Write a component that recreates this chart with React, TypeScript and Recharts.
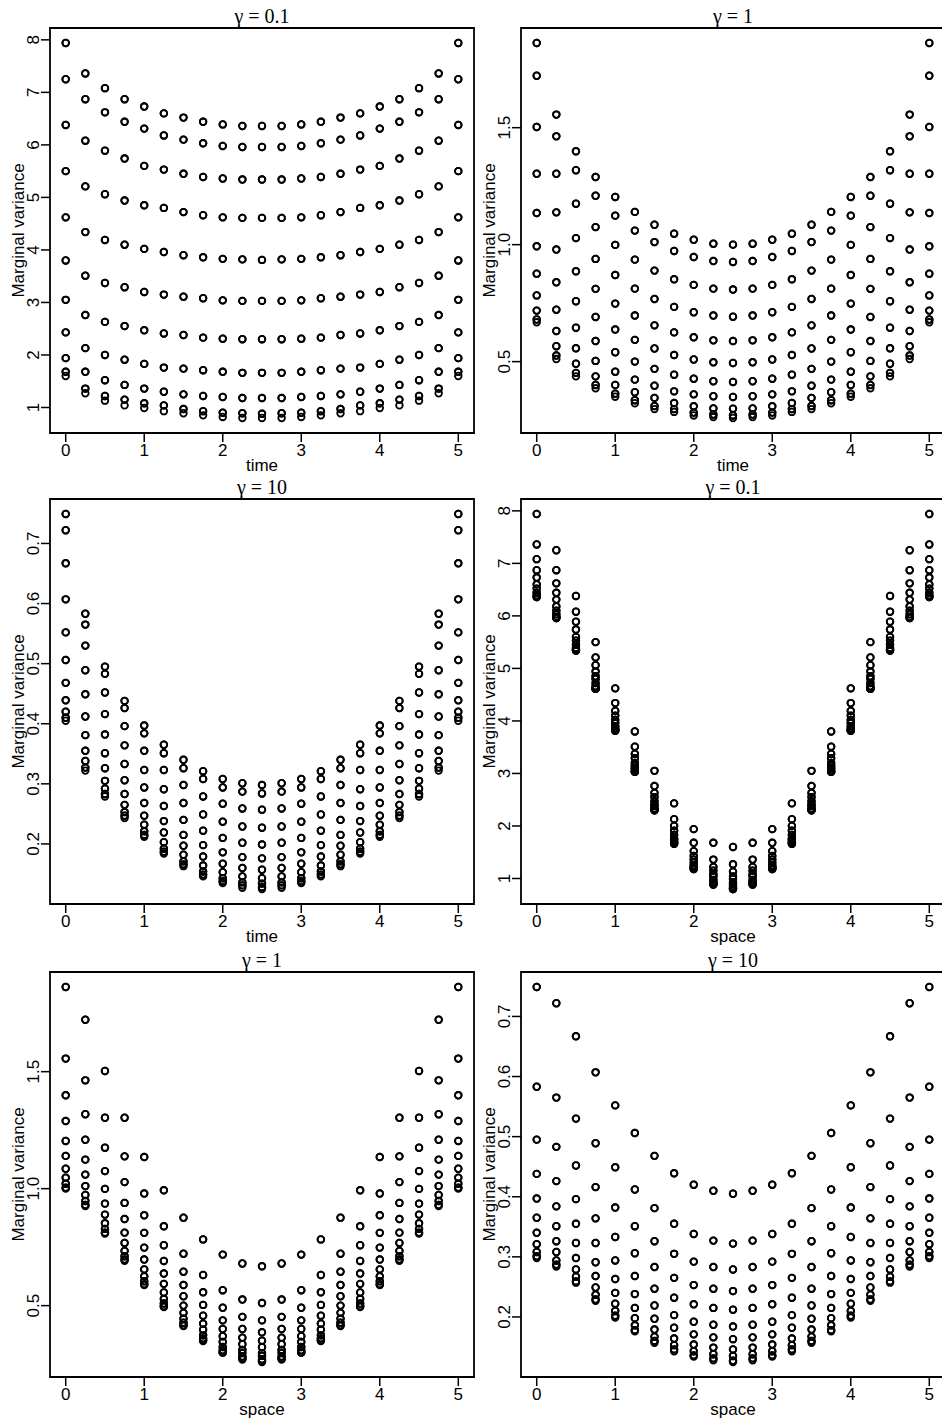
import React from 'react'
import { ScatterChart, Scatter, XAxis, YAxis, ReferenceArea } from 'recharts'

// grid of time / space locations (both 0..5 by 0.25)
const grid = [0, 0.25, 0.5, 0.75, 1, 1.25, 1.5, 1.75, 2, 2.25, 2.5, 2.75, 3, 3.25, 3.5, 3.75, 4, 4.25, 4.5, 4.75, 5]
const xTicks = [0, 1, 2, 3, 4, 5]

const yTicks01 = [1, 2, 3, 4, 5, 6, 7, 8]
const yTicks1 = [0.5, 1.0, 1.5]
const yTicks10 = [0.2, 0.3, 0.4, 0.5, 0.6, 0.7]

// marginal variance, one quarter of the field:
// rows = time 0, 0.25 .. 2.5, columns = space 0, 0.25 .. 2.5
// (the field is symmetric about 2.5 in both time and space)
const var01 = [
  [7.94, 7.25, 6.38, 5.5, 4.62, 3.8, 3.05, 2.43, 1.94, 1.68, 1.6],
  [7.36, 6.87, 6.08, 5.21, 4.34, 3.51, 2.76, 2.13, 1.68, 1.36, 1.27],
  [7.08, 6.62, 5.89, 5.06, 4.19, 3.37, 2.63, 2.0, 1.52, 1.22, 1.13],
  [6.87, 6.44, 5.74, 4.94, 4.1, 3.29, 2.55, 1.91, 1.43, 1.15, 1.04],
  [6.73, 6.31, 5.6, 4.85, 4.02, 3.2, 2.47, 1.83, 1.36, 1.08, 0.99],
  [6.6, 6.18, 5.53, 4.8, 3.96, 3.15, 2.41, 1.76, 1.3, 1.04, 0.93],
  [6.52, 6.1, 5.45, 4.72, 3.9, 3.11, 2.38, 1.74, 1.25, 0.97, 0.89],
  [6.44, 6.03, 5.39, 4.66, 3.86, 3.08, 2.33, 1.71, 1.22, 0.93, 0.85],
  [6.39, 5.98, 5.36, 4.62, 3.83, 3.04, 2.31, 1.68, 1.2, 0.9, 0.82],
  [6.36, 5.96, 5.34, 4.61, 3.82, 3.03, 2.3, 1.66, 1.18, 0.89, 0.8],
  [6.36, 5.96, 5.34, 4.61, 3.81, 3.03, 2.3, 1.66, 1.18, 0.88, 0.8],
]

const var1 = [
  [1.862, 1.722, 1.503, 1.303, 1.135, 0.993, 0.876, 0.783, 0.718, 0.68, 0.668],
  [1.556, 1.463, 1.303, 1.138, 0.979, 0.839, 0.722, 0.631, 0.566, 0.526, 0.511],
  [1.399, 1.318, 1.175, 1.028, 0.886, 0.758, 0.645, 0.557, 0.491, 0.452, 0.437],
  [1.289, 1.209, 1.075, 0.939, 0.811, 0.691, 0.588, 0.503, 0.437, 0.4, 0.386],
  [1.204, 1.124, 0.999, 0.87, 0.748, 0.637, 0.54, 0.457, 0.4, 0.363, 0.35],
  [1.14, 1.06, 0.936, 0.812, 0.697, 0.593, 0.5, 0.423, 0.369, 0.335, 0.322],
  [1.085, 1.011, 0.889, 0.768, 0.655, 0.556, 0.469, 0.397, 0.345, 0.31, 0.297],
  [1.047, 0.973, 0.852, 0.734, 0.625, 0.528, 0.444, 0.373, 0.323, 0.297, 0.285],
  [1.021, 0.947, 0.828, 0.711, 0.604, 0.509, 0.427, 0.36, 0.309, 0.282, 0.27],
  [1.004, 0.93, 0.812, 0.697, 0.591, 0.497, 0.416, 0.352, 0.3, 0.274, 0.263],
  [1.0, 0.926, 0.808, 0.692, 0.588, 0.494, 0.413, 0.349, 0.299, 0.27, 0.259],
]

const var10 = [
  [0.749, 0.722, 0.667, 0.607, 0.552, 0.506, 0.468, 0.439, 0.42, 0.41, 0.405],
  [0.583, 0.565, 0.53, 0.489, 0.449, 0.412, 0.381, 0.355, 0.338, 0.327, 0.322],
  [0.495, 0.483, 0.452, 0.416, 0.382, 0.351, 0.326, 0.305, 0.292, 0.283, 0.279],
  [0.438, 0.426, 0.396, 0.364, 0.333, 0.306, 0.283, 0.265, 0.253, 0.247, 0.243],
  [0.397, 0.384, 0.355, 0.323, 0.294, 0.268, 0.247, 0.232, 0.221, 0.215, 0.212],
  [0.365, 0.351, 0.323, 0.291, 0.263, 0.238, 0.219, 0.203, 0.192, 0.187, 0.184],
  [0.34, 0.326, 0.298, 0.268, 0.24, 0.215, 0.197, 0.182, 0.171, 0.166, 0.163],
  [0.321, 0.308, 0.279, 0.249, 0.222, 0.198, 0.179, 0.164, 0.154, 0.149, 0.146],
  [0.308, 0.294, 0.267, 0.237, 0.21, 0.186, 0.167, 0.153, 0.143, 0.138, 0.135],
  [0.301, 0.287, 0.259, 0.229, 0.202, 0.178, 0.16, 0.146, 0.136, 0.131, 0.127],
  [0.298, 0.284, 0.257, 0.227, 0.199, 0.176, 0.157, 0.143, 0.134, 0.128, 0.125],
]

const SANS = '"Liberation Sans", Arial, Helvetica, sans-serif'
const SERIF = '"Liberation Serif", "Times New Roman", serif'

// panel geometry (plot box inside each chart)
const W = 494
const H = 483
const BOX_L = 50
const BOX_T = 28
const BOX_R = 474
const BOX_B = 433

const cell = (q: number[][], i: number, j: number) => q[Math.min(i, 20 - i)][Math.min(j, 20 - j)]

function makePoints(q: number[][], along: 'time' | 'space') {
  const pts: { x: number; y: number }[] = []
  grid.forEach((t, i) => {
    grid.forEach((s, j) => {
      pts.push({ x: along === 'time' ? t : s, y: cell(q, i, j) })
    })
  })
  return pts
}

// R-style 4% padding on both ends
function padded(values: number[]): [number, number] {
  const lo = Math.min(...values)
  const hi = Math.max(...values)
  const d = (hi - lo) * 0.04
  return [lo - d, hi + d]
}

const Circle = (props: any) => (
  <circle cx={props.cx} cy={props.cy} r={3.3} fill="none" stroke="#000" strokeWidth={1.8} />
)

function YTick({ x, y, payload, digits }: any) {
  return (
    <text
      x={x}
      y={y}
      transform={`rotate(-90 ${x} ${y})`}
      textAnchor="middle"
      fontSize={17}
      fontFamily={SANS}
      fill="#000"
    >
      {Number(payload.value).toFixed(digits)}
    </text>
  )
}

interface PanelProps {
  left: number
  top: number
  q: number[][]
  along: 'time' | 'space'
  yTicks: number[]
  digits: number
  title: string
}

function Panel({ left, top, q, along, yTicks, digits, title }: PanelProps) {
  const data = makePoints(q, along)
  const xDom = padded(grid)
  const yDom = padded(data.map((p) => p.y))
  const cx = (BOX_L + BOX_R) / 2
  const cy = (BOX_T + BOX_B) / 2

  return (
    <div style={{ position: 'absolute', left, top, width: W, height: H }}>
      <ScatterChart width={W} height={H} margin={{ top: BOX_T, right: W - BOX_R, bottom: 0, left: 0 }}>
        <XAxis
          type="number"
          dataKey="x"
          domain={xDom}
          ticks={xTicks}
          height={H - BOX_B}
          axisLine={false}
          tickSize={9}
          tickMargin={2}
          tickLine={{ stroke: '#000', strokeWidth: 1.5 }}
          tick={{ fontSize: 17, fill: '#000', fontFamily: SANS }}
          interval={0}
        />
        <YAxis
          type="number"
          dataKey="y"
          domain={yDom}
          ticks={yTicks}
          width={BOX_L}
          axisLine={false}
          tickSize={9}
          tickMargin={1.5}
          tickLine={{ stroke: '#000', strokeWidth: 1.5 }}
          tick={(p: any) => <YTick {...p} digits={digits} />}
          interval={0}
        />
        <ReferenceArea
          x1={xDom[0]}
          x2={xDom[1]}
          y1={yDom[0]}
          y2={yDom[1]}
          fill="none"
          fillOpacity={0}
          stroke="#000"
          strokeWidth={1.8}
          ifOverflow="visible"
        />
        <Scatter data={data} isAnimationActive={false} shape={Circle} />
      </ScatterChart>
      <svg
        width={W}
        height={H}
        style={{ position: 'absolute', left: 0, top: 0, pointerEvents: 'none', overflow: 'visible' }}
      >
        <text x={cx} y={BOX_T - 5} textAnchor="middle" fontSize={20} fontFamily={SERIF} fill="#000">
          {title}
        </text>
        <text x={cx} y={BOX_B + 38} textAnchor="middle" fontSize={17} fontFamily={SANS} fill="#000">
          {along}
        </text>
        <text
          x={24}
          y={cy}
          transform={`rotate(-90 24 ${cy})`}
          textAnchor="middle"
          fontSize={17}
          fontFamily={SANS}
          fill="#000"
        >
          Marginal variance
        </text>
      </svg>
    </div>
  )
}

export default function App() {
  return (
    <div
      style={{
        position: 'absolute',
        left: 0,
        top: 0,
        width: 942,
        height: 1424,
        overflow: 'hidden',
        background: '#fff',
      }}
    >
      <Panel left={0} top={0} q={var01} along="time" yTicks={yTicks01} digits={0} title="γ = 0.1" />
      <Panel left={471} top={0} q={var1} along="time" yTicks={yTicks1} digits={1} title="γ = 1" />
      <Panel left={0} top={471} q={var10} along="time" yTicks={yTicks10} digits={1} title="γ = 10" />
      <Panel left={471} top={471} q={var01} along="space" yTicks={yTicks01} digits={0} title="γ = 0.1" />
      <Panel left={0} top={944} q={var1} along="space" yTicks={yTicks1} digits={1} title="γ = 1" />
      <Panel left={471} top={944} q={var10} along="space" yTicks={yTicks10} digits={1} title="γ = 10" />
    </div>
  )
}
